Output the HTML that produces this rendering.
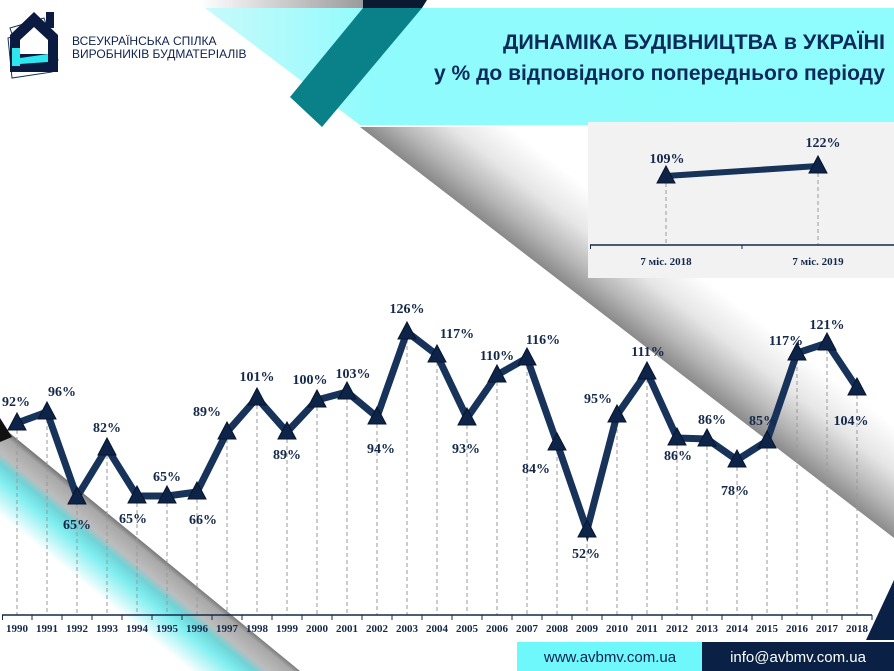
<!DOCTYPE html>
<html><head><meta charset="utf-8"><style>
body{margin:0;width:894px;height:671px;overflow:hidden;background:#fff}
svg{display:block}
.l{font-family:"Liberation Serif",serif;font-weight:bold;font-size:14px;fill:#14284a;text-anchor:middle}
.y{font-family:"Liberation Serif",serif;font-weight:bold;font-size:11px;fill:#14284a;text-anchor:middle}
.t{font-family:"Liberation Sans","DejaVu Sans",sans-serif;font-weight:bold;font-size:21px;fill:#0d2a5a;text-anchor:end}
</style></head><body>
<svg width="894" height="671" viewBox="0 0 894 671" xmlns="http://www.w3.org/2000/svg">
<defs>
<linearGradient id="g1" gradientUnits="userSpaceOnUse" x1="627" y1="332" x2="682" y2="261">
<stop offset="0" stop-color="#8a8a8a"/><stop offset="0.25" stop-color="#b5b5b5"/><stop offset="0.6" stop-color="#e6e6e6"/><stop offset="1" stop-color="#fff"/></linearGradient>
<linearGradient id="g2" gradientUnits="userSpaceOnUse" x1="150" y1="548" x2="106" y2="602">
<stop offset="0" stop-color="#777"/><stop offset="0.08" stop-color="#a8a8a8"/><stop offset="0.3" stop-color="#bdbdbd"/><stop offset="0.42" stop-color="#6fd3d7"/><stop offset="0.6" stop-color="#80eef0"/><stop offset="1" stop-color="#fff"/></linearGradient>
<linearGradient id="g3" x1="0" y1="0" x2="1" y2="0"><stop offset="0" stop-color="#fff"/><stop offset="1" stop-color="#999"/></linearGradient>
<linearGradient id="g4" x1="0" y1="0" x2="1" y2="0"><stop offset="0" stop-color="#c8fafb"/><stop offset="0.25" stop-color="#8ffbfc"/><stop offset="1" stop-color="#8ffcfd"/></linearGradient>
<path id="m" d="M0,-10 L9,7 L-9,7 Z" fill="#0d2448" stroke="#06142c" stroke-width="1"/>
</defs>
<polygon points="360,127 894,538 894,127" fill="url(#g1)"/>
<polygon points="894,580 894,640 866,640" fill="#0a2145"/>
<polygon points="0,425 300,671 0,671" fill="url(#g2)"/>
<polygon points="0,418 0,442 12,437" fill="#111"/>
<rect x="200" y="0" width="165" height="8" fill="url(#g3)"/>
<polygon points="205,8 894,8 894,125 360,125" fill="url(#g4)"/>
<polygon points="363,8 422,8 322,127 290,97" fill="#0a8088"/>
<polygon points="363,0 427,0 422,8 363,8" fill="#0a1a30"/>
<text class="t" x="885" y="49" textLength="382" lengthAdjust="spacingAndGlyphs">ДИНАМІКА БУДІВНИЦТВА в УКРАЇНІ</text>
<text class="t" x="885" y="80" textLength="451" lengthAdjust="spacingAndGlyphs">у % до відповідного попереднього періоду</text>
<g>
<polygon points="10,28 44,18 58,60 24,70" fill="none" stroke="#1a2e55" stroke-width="1"/>
<polygon points="8,38 48,28 52,72 12,78" fill="none" stroke="#1a2e55" stroke-width="1"/>
<polygon points="10,35 34,12 58,35 58,72 10,72" fill="#0a1a40"/>
<rect x="46" y="12" width="8" height="16" fill="#0a1a40"/>
<polygon points="20,40 34,27 48,40 48,54 20,54" fill="#fff"/>
<rect x="12" y="48" width="8" height="18" fill="#2de6ee"/>
<polygon points="20,58 48,54 48,62 20,64" fill="#2de6ee"/>
<text x="72" y="45" font-family="Liberation Sans,DejaVu Sans,sans-serif" font-size="12" fill="#0d2250">ВСЕУКРАЇНСЬКА СПІЛКА</text>
<text x="72" y="58" font-family="Liberation Sans,DejaVu Sans,sans-serif" font-size="12" fill="#0d2250">ВИРОБНИКІВ БУДМАТЕРІАЛІВ</text>
</g>
<rect x="588" y="122" width="306" height="156" fill="#f2f2f2"/>
<g stroke="#999" stroke-dasharray="4,3" stroke-width="1"><line x1="666" y1="176" x2="666" y2="245"/><line x1="818" y1="166" x2="818" y2="245"/></g>
<line x1="590" y1="245" x2="894" y2="245" stroke="#14284a" stroke-width="1.5"/>
<line x1="590.5" y1="245" x2="590.5" y2="249" stroke="#14284a"/><line x1="742" y1="245" x2="742" y2="249" stroke="#14284a"/>
<line x1="666" y1="176" x2="818" y2="166" stroke="#17335a" stroke-width="6"/>
<use href="#m" x="666" y="176"/><use href="#m" x="818" y="166"/>
<text class="l" x="667" y="163">109%</text><text class="l" x="823" y="147">122%</text>
<text class="y" x="666" y="265">7 міс. 2018</text><text class="y" x="818" y="265">7 міс. 2019</text>
<g stroke="#999" stroke-dasharray="4,3" stroke-width="1">
<line x1="17" y1="423" x2="17" y2="615"/><line x1="47" y1="412" x2="47" y2="615"/><line x1="77" y1="497" x2="77" y2="615"/><line x1="107" y1="448" x2="107" y2="615"/><line x1="137" y1="496" x2="137" y2="615"/><line x1="167" y1="496" x2="167" y2="615"/><line x1="197" y1="492" x2="197" y2="615"/><line x1="227" y1="432" x2="227" y2="615"/><line x1="257" y1="398" x2="257" y2="615"/><line x1="287" y1="432" x2="287" y2="615"/><line x1="317" y1="400" x2="317" y2="615"/><line x1="347" y1="392" x2="347" y2="615"/><line x1="377" y1="417" x2="377" y2="615"/><line x1="407" y1="332" x2="407" y2="615"/><line x1="437" y1="355" x2="437" y2="615"/><line x1="467" y1="418" x2="467" y2="615"/><line x1="497" y1="375" x2="497" y2="615"/><line x1="527" y1="358" x2="527" y2="615"/><line x1="557" y1="443" x2="557" y2="615"/><line x1="587" y1="530" x2="587" y2="615"/><line x1="617" y1="415" x2="617" y2="615"/><line x1="647" y1="372" x2="647" y2="615"/><line x1="677" y1="438" x2="677" y2="615"/><line x1="707" y1="439" x2="707" y2="615"/><line x1="737" y1="460" x2="737" y2="615"/><line x1="767" y1="441" x2="767" y2="615"/><line x1="797" y1="353" x2="797" y2="615"/><line x1="827" y1="343" x2="827" y2="615"/><line x1="857" y1="388" x2="857" y2="615"/>
</g>
<line x1="2" y1="615" x2="872" y2="615" stroke="#14284a" stroke-width="1.5"/>
<g stroke="#14284a" stroke-width="1">
<line x1="2.5" y1="615" x2="2.5" y2="620"/><line x1="32" y1="615" x2="32" y2="620"/><line x1="62" y1="615" x2="62" y2="620"/><line x1="92" y1="615" x2="92" y2="620"/><line x1="122" y1="615" x2="122" y2="620"/><line x1="152" y1="615" x2="152" y2="620"/><line x1="182" y1="615" x2="182" y2="620"/><line x1="212" y1="615" x2="212" y2="620"/><line x1="242" y1="615" x2="242" y2="620"/><line x1="272" y1="615" x2="272" y2="620"/><line x1="302" y1="615" x2="302" y2="620"/><line x1="332" y1="615" x2="332" y2="620"/><line x1="362" y1="615" x2="362" y2="620"/><line x1="392" y1="615" x2="392" y2="620"/><line x1="422" y1="615" x2="422" y2="620"/><line x1="452" y1="615" x2="452" y2="620"/><line x1="482" y1="615" x2="482" y2="620"/><line x1="512" y1="615" x2="512" y2="620"/><line x1="542" y1="615" x2="542" y2="620"/><line x1="572" y1="615" x2="572" y2="620"/><line x1="602" y1="615" x2="602" y2="620"/><line x1="632" y1="615" x2="632" y2="620"/><line x1="662" y1="615" x2="662" y2="620"/><line x1="692" y1="615" x2="692" y2="620"/><line x1="722" y1="615" x2="722" y2="620"/><line x1="752" y1="615" x2="752" y2="620"/><line x1="782" y1="615" x2="782" y2="620"/><line x1="812" y1="615" x2="812" y2="620"/><line x1="842" y1="615" x2="842" y2="620"/><line x1="872" y1="615" x2="872" y2="620"/>
</g>
<polyline fill="none" stroke="#17335a" stroke-width="7" stroke-linejoin="miter" points="17,423 47,412 77,497 107,448 137,496 167,496 197,492 227,432 257,398 287,432 317,400 347,392 377,417 407,332 437,355 467,418 497,375 527,358 557,443 587,530 617,415 647,372 677,438 707,439 737,460 767,441 797,353 827,343 857,388"/>
<g>
<use href="#m" x="17" y="423"/><use href="#m" x="47" y="412"/><use href="#m" x="77" y="497"/><use href="#m" x="107" y="448"/><use href="#m" x="137" y="496"/><use href="#m" x="167" y="496"/><use href="#m" x="197" y="492"/><use href="#m" x="227" y="432"/><use href="#m" x="257" y="398"/><use href="#m" x="287" y="432"/><use href="#m" x="317" y="400"/><use href="#m" x="347" y="392"/><use href="#m" x="377" y="417"/><use href="#m" x="407" y="332"/><use href="#m" x="437" y="355"/><use href="#m" x="467" y="418"/><use href="#m" x="497" y="375"/><use href="#m" x="527" y="358"/><use href="#m" x="557" y="443"/><use href="#m" x="587" y="530"/><use href="#m" x="617" y="415"/><use href="#m" x="647" y="372"/><use href="#m" x="677" y="438"/><use href="#m" x="707" y="439"/><use href="#m" x="737" y="460"/><use href="#m" x="767" y="441"/><use href="#m" x="797" y="353"/><use href="#m" x="827" y="343"/><use href="#m" x="857" y="388"/>
</g>
<g>
<text class="l" x="16" y="406">92%</text><text class="l" x="62" y="396">96%</text><text class="l" x="77" y="529">65%</text><text class="l" x="107" y="432">82%</text><text class="l" x="133" y="523">65%</text><text class="l" x="167" y="481">65%</text><text class="l" x="203" y="524">66%</text><text class="l" x="207" y="416">89%</text><text class="l" x="257" y="381">101%</text><text class="l" x="287" y="459">89%</text><text class="l" x="310" y="384">100%</text><text class="l" x="353" y="378">103%</text><text class="l" x="381" y="453">94%</text><text class="l" x="407" y="313">126%</text><text class="l" x="457" y="338">117%</text><text class="l" x="466" y="453">93%</text><text class="l" x="497" y="360">110%</text><text class="l" x="543" y="344">116%</text><text class="l" x="536" y="473">84%</text><text class="l" x="586" y="558">52%</text><text class="l" x="598" y="403">95%</text><text class="l" x="648" y="356">111%</text><text class="l" x="678" y="460">86%</text><text class="l" x="712" y="424">86%</text><text class="l" x="735" y="495">78%</text><text class="l" x="763" y="425">85%</text><text class="l" x="786" y="345">117%</text><text class="l" x="827" y="329">121%</text><text class="l" x="851" y="425">104%</text>
</g>
<g>
<text class="y" x="17" y="632">1990</text><text class="y" x="47" y="632">1991</text><text class="y" x="77" y="632">1992</text><text class="y" x="107" y="632">1993</text><text class="y" x="137" y="632">1994</text><text class="y" x="167" y="632">1995</text><text class="y" x="197" y="632">1996</text><text class="y" x="227" y="632">1997</text><text class="y" x="257" y="632">1998</text><text class="y" x="287" y="632">1999</text><text class="y" x="317" y="632">2000</text><text class="y" x="347" y="632">2001</text><text class="y" x="377" y="632">2002</text><text class="y" x="407" y="632">2003</text><text class="y" x="437" y="632">2004</text><text class="y" x="467" y="632">2005</text><text class="y" x="497" y="632">2006</text><text class="y" x="527" y="632">2007</text><text class="y" x="557" y="632">2008</text><text class="y" x="587" y="632">2009</text><text class="y" x="617" y="632">2010</text><text class="y" x="647" y="632">2011</text><text class="y" x="677" y="632">2012</text><text class="y" x="707" y="632">2013</text><text class="y" x="737" y="632">2014</text><text class="y" x="767" y="632">2015</text><text class="y" x="797" y="632">2016</text><text class="y" x="827" y="632">2017</text><text class="y" x="857" y="632">2018</text>
</g>
<rect x="517" y="642" width="186" height="29" fill="#6ff8fb"/>
<rect x="702" y="642" width="192" height="29" fill="#0a2145"/>
<text x="610" y="662" text-anchor="middle" font-family="Liberation Sans,DejaVu Sans,sans-serif" font-size="15" fill="#0d2250">www.avbmv.com.ua</text>
<text x="798" y="662" text-anchor="middle" font-family="Liberation Sans,DejaVu Sans,sans-serif" font-size="15" fill="#fff">info@avbmv.com.ua</text>
</svg>
</body></html>
